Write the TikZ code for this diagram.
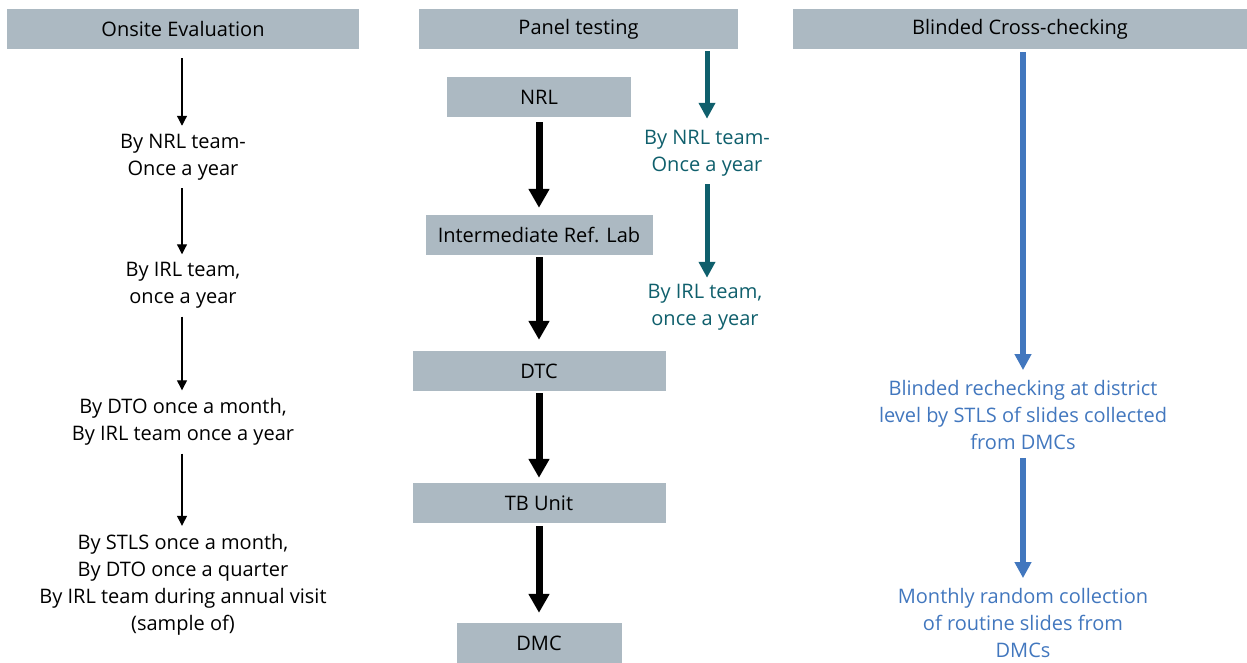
\documentclass[tikz,border=0pt]{standalone}
\usepackage{fontspec}
\setmainfont{Open Sans}
\usetikzlibrary{arrows.meta}
\definecolor{boxgray}{HTML}{ACB9C2}
\definecolor{tealc}{HTML}{0F5F6C}
\definecolor{bluec}{HTML}{4277BE}
\begin{document}
\begin{tikzpicture}[x=1pt,y=-1pt,
  font=\fontsize{20}{27}\selectfont,
  gbox/.style={fill=boxgray, inner sep=0pt, minimum height=40pt, text=black},
  lbl/.style={inner sep=0pt, align=center},
  thin/.style={-{Triangle[width=10pt,length=10pt]}, line width=1.2pt, black},
  thick/.style={-{Triangle[width=20pt,length=19pt]}, line width=7pt, black},
  tealarr/.style={-{Triangle[width=16pt,length=16pt]}, line width=5pt, tealc},
  bluearr/.style={-{Triangle[width=16pt,length=16pt]}, line width=5.5pt, bluec}
]
\useasboundingbox (0,0) rectangle (1247,662);
% headers
\node[gbox, minimum width=352pt] (h1) at (183,29) {Onsite Evaluation};
\node[gbox, minimum width=319pt] (h2) at (578.5,29) {Panel testing};
\node[gbox, minimum width=454pt] (h3) at (1020,29) {Blinded Cross-checking};
% column 1
\node[lbl] (a1) at (183,157) {By NRL team-\\Once a year};
\node[lbl] (a2) at (183,285.5) {By IRL team,\\once a year};
\node[lbl] (a3) at (183,422) {By DTO once a month,\\By IRL team once a year};
\node[lbl] (a4) at (183,584.5) {By STLS once a month,\\By DTO once a quarter\\By IRL team during annual visit\\(sample of)};
\coordinate (h1s) at (182,49);
\draw[thin, shorten <=9pt, shorten >=8pt] (h1s) -- (h1s |- a1.north);
\draw[thin, shorten <=8pt, shorten >=8pt] (a1.south -| h1s) -- (a2.north -| h1s);
\draw[thin, shorten <=8pt, shorten >=8pt] (a2.south -| h1s) -- (a3.north -| h1s);
\draw[thin, shorten <=8pt, shorten >=8pt] (a3.south -| h1s) -- (a4.north -| h1s);
% column 2
\node[gbox, minimum width=184pt] (nrl) at (539,97) {NRL};
\node[gbox, minimum width=227pt] (irl) at (539,235) {Intermediate Ref. Lab};
\node[gbox, minimum width=253pt] (dtc) at (539,371) {DTC};
\node[gbox, minimum width=253pt] (tbu) at (539,503) {TB Unit};
\node[gbox, minimum width=165pt] (dmc) at (539,643) {DMC};
\draw[thick, shorten <=5pt, shorten >=7pt] (nrl.south) -- (irl.north);
\draw[thick, shorten <=2pt, shorten >=11pt] (irl.south) -- (dtc.north);
\draw[thick, shorten <=2pt, shorten >=5pt] (dtc.south) -- (tbu.north);
\draw[thick, shorten <=3pt, shorten >=10pt] (tbu.south) -- (dmc.north);
% teal
\node[lbl, text=tealc] (b1) at (707,153) {By NRL team-\\Once a year};
\node[lbl, text=tealc] (b2) at (705,307) {By IRL team,\\once a year};
\coordinate (tx) at (707,49);
\draw[tealarr, shorten <=2pt, shorten >=11pt] (tx) -- (tx |- b1.north);
\draw[tealarr, shorten <=8pt, shorten >=6pt] (b1.south -| tx) -- (b2.north -| tx);
% blue
\node[lbl, text=bluec] (c1) at (1023,415) {Blinded rechecking at district\\level by STLS of slides collected\\from DMCs};
\node[lbl, text=bluec] (c2) at (1023,623) {Monthly random collection\\of routine slides from\\DMCs};
\coordinate (cx) at (1023,49);
\draw[bluearr, shorten <=3pt, shorten >=10pt] (cx) -- (cx |- c1.north);
\draw[bluearr, shorten <=8pt, shorten >=10pt] (c1.south -| cx) -- (c2.north -| cx);
\end{tikzpicture}
\end{document}
